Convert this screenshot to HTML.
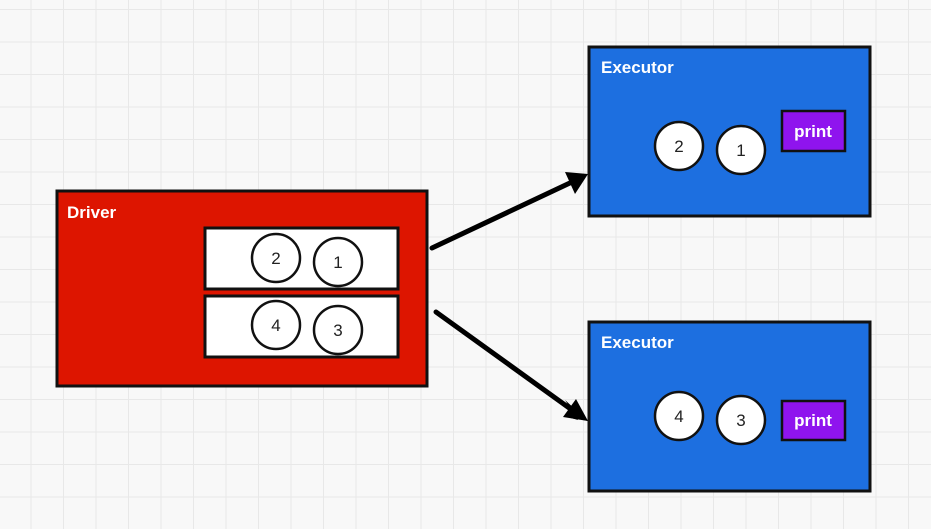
<!DOCTYPE html>
<html><head><meta charset="utf-8"><style>
html,body{margin:0;padding:0;width:931px;height:529px;overflow:hidden;background:#f8f8f8}
svg{display:block}
text{font-family:"Liberation Sans",sans-serif}
</style></head><body>
<svg width="931" height="529" viewBox="0 0 931 529" xmlns="http://www.w3.org/2000/svg">
<defs>
<pattern id="g" x="-1" y="10" width="32.5" height="32.5" patternUnits="userSpaceOnUse">
<rect width="32.5" height="32.5" fill="#f8f8f8"/>
<path d="M32.5 0V32.5M0 32.5H32.5" stroke="#e8e8e8" stroke-width="2" fill="none"/>
</pattern>
</defs>
<rect width="931" height="529" fill="url(#g)"/>

<!-- Driver -->
<rect x="57" y="191" width="370" height="195" fill="#dd1500" stroke="#111" stroke-width="3"/>
<text x="67" y="218" fill="#fff" font-size="17" font-weight="bold">Driver</text>
<rect x="205" y="228" width="193" height="61" fill="#fff" stroke="#111" stroke-width="3"/>
<rect x="205" y="296" width="193" height="61" fill="#fff" stroke="#111" stroke-width="3"/>
<g fill="#fff" stroke="#111" stroke-width="2.5">
<circle cx="276" cy="258" r="24"/><circle cx="338" cy="262" r="24"/>
<circle cx="276" cy="325" r="24"/><circle cx="338" cy="330" r="24"/>
</g>
<g font-size="17" fill="#222" text-anchor="middle">
<text x="276" y="264">2</text><text x="338" y="268">1</text>
<text x="276" y="331">4</text><text x="338" y="336">3</text>
</g>

<!-- Arrows -->
<g stroke="#000" stroke-width="5" fill="none" stroke-linecap="round">
<line x1="432" y1="248" x2="572" y2="182"/>
<line x1="436" y1="312" x2="572" y2="410"/>
</g>
<polygon points="588,174 565,172 575,194" fill="#000"/>
<polygon points="588,421 565,400 578,420 564,416" fill="#000"/>
<polygon points="588,421 563,417 576,399" fill="#000"/>

<!-- Executor 1 -->
<rect x="589" y="47" width="281" height="169" fill="#1d6fe0" stroke="#111" stroke-width="3"/>
<text x="601" y="73" fill="#fff" font-size="17" font-weight="bold">Executor</text>
<g fill="#fff" stroke="#111" stroke-width="2.5">
<circle cx="679" cy="146" r="24"/><circle cx="741" cy="150" r="24"/>
</g>
<g font-size="17" fill="#222" text-anchor="middle">
<text x="679" y="152">2</text><text x="741" y="156">1</text>
</g>
<rect x="782" y="111" width="63" height="40" fill="#8f14ee" stroke="#111" stroke-width="2.5"/>
<text x="813" y="137" fill="#fff" font-size="17" font-weight="bold" text-anchor="middle">print</text>

<!-- Executor 2 -->
<rect x="589" y="322" width="281" height="169" fill="#1d6fe0" stroke="#111" stroke-width="3"/>
<text x="601" y="348" fill="#fff" font-size="17" font-weight="bold">Executor</text>
<g fill="#fff" stroke="#111" stroke-width="2.5">
<circle cx="679" cy="416" r="24"/><circle cx="741" cy="420" r="24"/>
</g>
<g font-size="17" fill="#222" text-anchor="middle">
<text x="679" y="422">4</text><text x="741" y="426">3</text>
</g>
<rect x="782" y="401" width="63" height="39" fill="#8f14ee" stroke="#111" stroke-width="2.5"/>
<text x="813" y="426" fill="#fff" font-size="17" font-weight="bold" text-anchor="middle">print</text>
</svg>
</body></html>
